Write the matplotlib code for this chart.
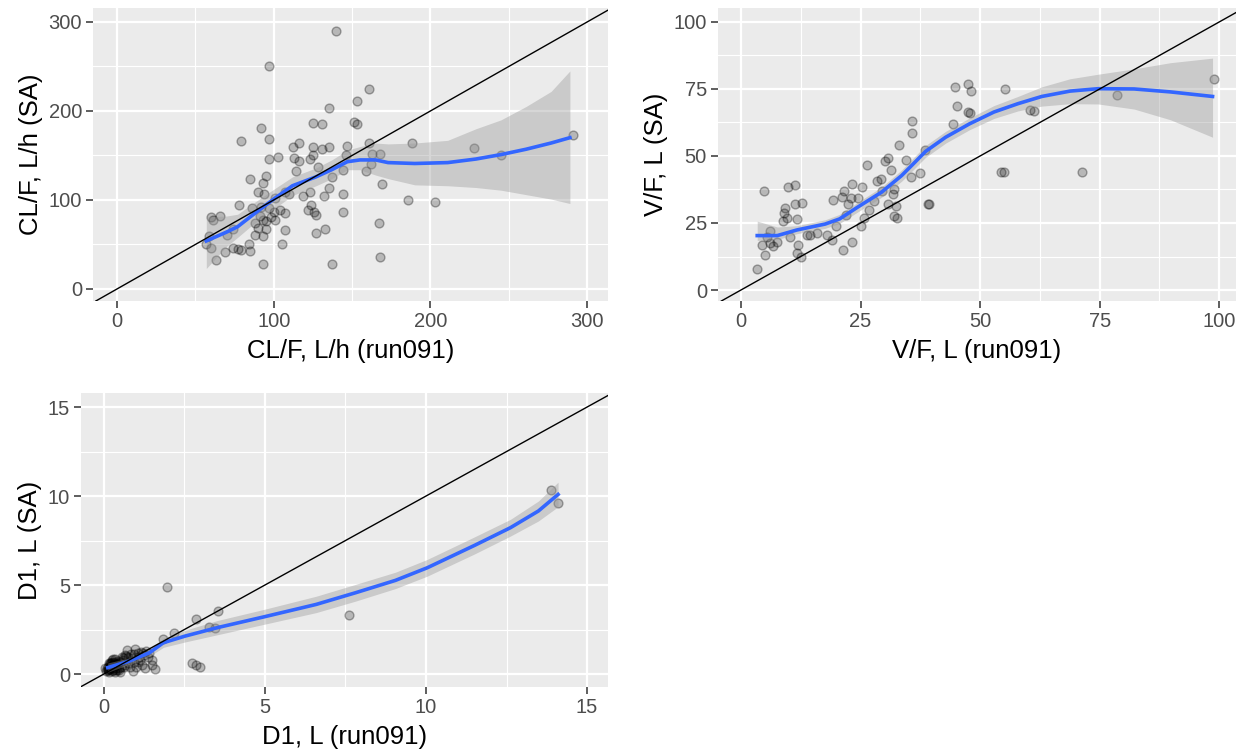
import matplotlib
matplotlib.use("Agg")
import matplotlib.pyplot as plt
import numpy as np

plt.rcParams['font.family'] = ['Liberation Sans', 'DejaVu Sans']

# ---- CL/F panel ----
cl_run = [140, 97, 161, 153, 135, 92, 125, 131, 151, 153, 79, 97, 112, 116, 125, 135, 131, 147, 161, 188,
          97, 103, 113, 116, 123, 125, 128, 114, 137, 144, 146, 163, 168, 162, 159, 169, 186, 85, 95, 93,
          90, 94, 78, 86, 101, 107, 110, 119, 123, 135, 132, 144, 124, 122, 126, 127, 144, 97, 100, 104,
          107, 91, 93, 95, 90, 95, 88, 93, 107, 127, 133, 105, 84, 85, 79, 77, 74, 69, 63, 60,
          57, 59, 61, 60, 66, 70, 74, 93, 137, 167, 168, 92, 98, 101, 88, 203, 228, 245, 291]
cl_sa = [290, 251, 225, 211, 203, 181, 187, 185, 188, 185, 166, 168, 159, 164, 159, 160, 157, 161, 164, 164,
         146, 148, 147, 144, 146, 150, 137, 133, 126, 134, 150, 152, 152, 140, 133, 118, 100, 124, 127, 119,
         109, 107, 94, 91, 102, 109, 107, 105, 109, 113, 104, 107, 94, 89, 86, 83, 86, 91, 87, 89,
         85, 82, 78, 76, 69, 67, 61, 59, 66, 63, 67, 50, 51, 43, 44, 45, 46, 41, 33, 46,
         50, 60, 78, 81, 82, 61, 67, 28, 28, 74, 36, 92, 81, 78, 74, 98, 158, 151, 173]
cl_fit_x = [57, 70, 77, 85, 100, 112, 127, 137, 147, 155, 165, 173, 190, 211, 229, 245, 261, 277, 289]
cl_fit_y = [54, 64, 70, 81, 101, 116, 126, 134, 143, 145, 145, 142, 141, 142, 146, 151, 157, 164, 170]
cl_fit_lo = [23, 48, 58, 70, 90, 105, 116, 124, 134, 134, 128, 124, 117, 116, 114, 111, 106, 101, 96]
cl_fit_hi = [81, 82, 84, 94, 112, 126, 136, 145, 156, 160, 164, 163, 164, 167, 180, 190, 205, 222, 245]

# ---- V/F panel ----
v_run = [44.7, 47.4, 48.1, 55.3, 45.1, 47.4, 60.5, 35.7, 35.7, 44.4, 33.1, 38.4, 30.7, 30.1, 34.5, 26.3,
         31.3, 35.6, 37.4, 29.3, 31.9, 31.7, 54.4, 39.1, 23.3, 25.4, 21.6, 21.2, 22.3, 23.0, 24.4, 19.3,
         30.7, 32.4, 32.1, 32.7, 27.9, 25.8, 25.2, 23.3, 21.4, 19.8, 17.9, 15.9, 13.8, 10.2, 19.1, 4.8,
         9.8, 11.4, 12.8, 11.4, 9.3, 8.9, 9.6, 8.8, 11.7, 6.1, 5.4, 4.4, 6.8, 5.1, 3.3, 11.9,
         11.7, 12.6, 6.0, 98.8, 78.7, 71.3, 55.0, 61.2, 47.8, 39.4, 28.5, 29.5, 26.8, 22.0, 14.5, 7.5]
v_sa = [75.8, 77.0, 74.1, 75.0, 68.5, 66.3, 67.0, 63.0, 58.4, 61.9, 54.1, 52.1, 49.3, 48.0, 48.6, 46.8,
        44.6, 42.0, 43.6, 41.4, 37.6, 35.8, 44.2, 32.0, 39.5, 38.5, 37.0, 34.7, 32.0, 34.5, 34.5, 33.5,
        32.0, 31.4, 27.6, 26.7, 33.2, 27.0, 23.8, 17.9, 15.0, 23.8, 20.7, 21.1, 20.7, 19.8, 18.8, 36.8,
        38.5, 39.3, 32.6, 32.2, 30.7, 28.8, 27.0, 25.7, 26.6, 21.9, 19.7, 16.9, 16.3, 13.1, 7.8, 16.9,
        13.7, 12.5, 17.5, 78.7, 72.9, 44.0, 44.0, 66.7, 66.0, 32.0, 40.5, 37.0, 30.0, 28.0, 20.5, 18.0]
v_fit_x = [3.4, 7.6, 11.7, 17.6, 20.6, 24.3, 29.4, 33.6, 36.0, 38.6, 42.8, 47.8, 52.9, 57.9, 62.9, 68.8,
           74.7, 82.2, 89.8, 98.6]
v_fit_y = [20.3, 20.3, 22.4, 24.6, 26.5, 30.8, 36.5, 42.7, 47.0, 51.7, 57.0, 62.0, 66.4, 69.5, 72.2, 74.2,
           75.1, 75.0, 73.9, 72.2]
v_fit_lo = [18.5, 18.8, 21.0, 23.0, 24.8, 29.0, 34.6, 40.6, 44.8, 49.5, 54.8, 59.8, 64.0, 66.8, 68.6, 69.5,
            69.4, 67.5, 63.5, 57.0]
v_fit_hi = [25.7, 23.5, 24.0, 26.2, 28.2, 32.6, 38.4, 44.8, 49.2, 53.9, 59.2, 64.2, 68.8, 72.2, 75.8, 78.8,
            80.5, 82.5, 84.8, 86.5]

# ---- D1 panel ----
d_run = [1.97, 3.55, 2.86, 3.27, 3.45, 2.17, 1.84, 2.75, 2.86, 2.98, 0.72, 0.96, 1.22, 1.38, 1.48, 1.58,
         1.27, 0.89, 1.07, 1.48, 0.19, 0.13, 0.24, 0.31, 0.39, 0.45, 0.52, 0.60, 0.65, 0.29, 0.08, 0.17,
         0.34, 0.50, 0.76, 0.86, 0.24, 0.55, 0.70, 1.01, 1.12, 1.17, 0.81, 0.19, 0.03, 7.6, 13.88, 14.1,
         0.15, 0.22, 0.28, 0.36, 0.42, 0.25, 0.33, 0.12, 0.18, 0.21, 0.26, 0.30, 0.35, 0.40, 0.46, 0.14,
         0.20, 0.23, 0.27, 0.32, 0.38, 0.44, 0.50, 0.58, 0.66, 0.75, 0.85, 0.95, 1.05, 1.15, 1.30, 1.40,
         0.10, 0.16, 0.28, 0.48, 0.62, 0.92, 1.10, 1.25]
d_sa = [4.87, 3.56, 3.07, 2.66, 2.57, 2.28, 1.95, 0.60, 0.50, 0.37, 1.35, 1.39, 1.16, 0.97, 0.79, 0.26,
        0.32, 0.19, 0.69, 0.50, 0.41, 0.22, 0.79, 0.60, 0.32, 0.64, 0.41, 0.79, 0.50, 0.22, 0.19, 0.13,
        0.13, 0.13, 0.60, 0.88, 0.50, 0.97, 1.01, 0.41, 0.79, 0.50, 0.41, 0.64, 0.32, 3.30, 10.32, 9.59,
        0.30, 0.45, 0.35, 0.55, 0.25, 0.70, 0.85, 0.20, 0.28, 0.38, 0.18, 0.48, 0.25, 0.58, 0.35, 0.42,
        0.55, 0.62, 0.45, 0.70, 0.50, 0.75, 0.66, 0.90, 1.05, 0.95, 1.10, 1.15, 1.20, 1.25, 1.30, 1.20,
        0.35, 0.60, 0.85, 0.25, 0.40, 0.70, 0.95, 1.05]
d_fit_x = [0.12, 0.80, 1.42, 1.85, 2.52, 3.51, 4.99, 6.59, 7.82, 9.05, 10.04, 11.51, 12.62, 13.49, 14.10]
d_fit_y = [0.36, 0.73, 1.20, 1.76, 2.13, 2.60, 3.22, 3.91, 4.57, 5.26, 5.97, 7.23, 8.22, 9.16, 10.09]
d_fit_lo = [0.10, 0.55, 1.00, 1.50, 1.80, 2.20, 2.80, 3.45, 4.10, 4.80, 5.50, 6.75, 7.75, 8.60, 9.40]
d_fit_hi = [0.62, 0.91, 1.40, 2.02, 2.46, 3.00, 3.64, 4.37, 5.04, 5.72, 6.44, 7.71, 8.69, 9.72, 10.78]

BG = '#EBEBEB'
W, H = 1236, 756
fig = plt.figure(figsize=(W / 100, H / 100), dpi=100)


def px_axes(l, t, r, b):
    return fig.add_axes([l / W, 1 - b / H, (r - l) / W, (b - t) / H])


def panel(ax, xr, yr, fx, fy, flo, fhi, xlim, ylim, major, minor, xlab, ylab):
    ax.set_facecolor(BG)
    for s in ax.spines.values():
        s.set_visible(False)
    ax.set_xlim(xlim)
    ax.set_ylim(ylim)
    ax.set_xticks(major)
    ax.set_yticks(major)
    ax.set_xticks(minor, minor=True)
    ax.set_yticks(minor, minor=True)
    ax.grid(True, which='major', color='white', lw=1.6)
    ax.grid(True, which='minor', color='white', lw=0.8)
    ax.set_axisbelow(True)
    ax.tick_params(which='major', length=5, width=1.1, color='#333333',
                   labelsize=14.5, labelcolor='#4D4D4D', pad=3)
    ax.tick_params(which='minor', length=0)
    ax.scatter(xr, yr, s=40, facecolor=(0, 0, 0, 0.22), edgecolor=(0, 0, 0, 0.32),
               linewidths=1.0, zorder=2)
    ax.fill_between(fx, flo, fhi, color='#999999', alpha=0.4, lw=0, zorder=3)
    ax.plot(fx, fy, color='#3366FF', lw=2.6, zorder=4)
    ax.axline((0, 0), slope=1, color='black', lw=1.0, zorder=5)
    ax.set_xlabel(xlab, fontsize=18.5, labelpad=6)
    ax.set_ylabel(ylab, fontsize=18.5, labelpad=4)


ax1 = px_axes(93, 8, 608, 301)
panel(ax1, cl_run, cl_sa, cl_fit_x, cl_fit_y, cl_fit_lo, cl_fit_hi,
      (-15.3, 313.3), (-13.5, 315.7), [0, 100, 200, 300], [50, 150, 250],
      'CL/F, L/h (run091)', 'CL/F, L/h (SA)')

ax2 = px_axes(718, 8, 1236, 301)
panel(ax2, v_run, v_sa, v_fit_x, v_fit_y, v_fit_lo, v_fit_hi,
      (-4.8, 103.5), (-4.1, 105.2), [0, 25, 50, 75, 100], [12.5, 37.5, 62.5, 87.5],
      'V/F, L (run091)', 'V/F, L (SA)')

ax3 = px_axes(81, 393, 608, 687)
panel(ax3, d_run, d_sa, d_fit_x, d_fit_y, d_fit_lo, d_fit_hi,
      (-0.71, 15.65), (-0.73, 15.79), [0, 5, 10, 15], [2.5, 7.5, 12.5],
      'D1, L (run091)', 'D1, L (SA)')

fig.savefig('out.png', dpi=100)
